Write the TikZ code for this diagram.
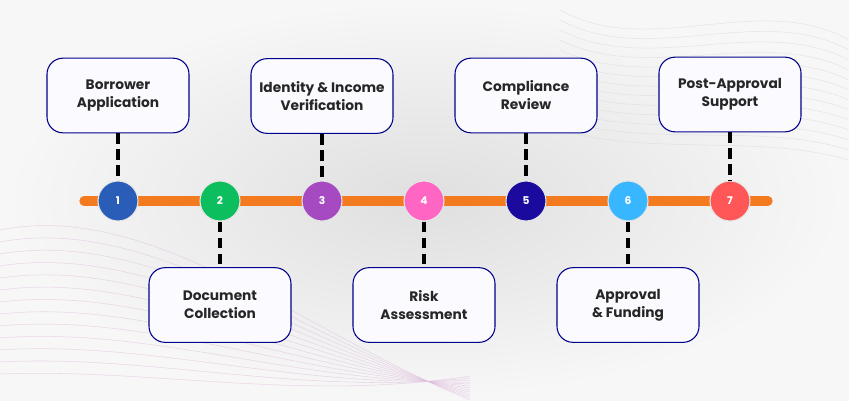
\documentclass[tikz,border=0pt]{standalone}
\usepackage{fontspec}
\setmainfont{Poppins}[BoldFont=* Bold]
\begin{document}
\begin{tikzpicture}[x=0.75pt,y=-0.75pt,
 box/.style={draw=blue!55!black,line width=0.8pt,fill=white!98!blue,rounded corners=12pt,minimum width=106.5pt,minimum height=56pt,align=center,font=\bfseries\fontsize{10.3}{13.5}\selectfont,text=black!85},
 dot/.style={circle,minimum size=30pt,inner sep=0pt,draw=white!80!gray,line width=0.8pt,text=white,font=\bfseries\fontsize{8}{10}\selectfont},
 stem/.style={line width=3.5pt,dash pattern=on 8pt off 4pt}]
\shade[inner color=gray!25,outer color=gray!6] (0,0) rectangle (849,400);
\useasboundingbox (0,0) rectangle (849,400);
\foreach \k in {0,...,12}{
 \draw[violet!25,line width=0.4pt,opacity=0.6] (0,{230+\k*12}) .. controls (150,{200+\k*14}) and (300,{330+\k*6}) .. (470,{400-\k*2});
 \draw[gray!30,line width=0.4pt,opacity=0.6] (560,{10+\k*10}) .. controls (650,{60+\k*8}) and (760,{-10+\k*12}) .. (849,{40+\k*10});
}
\definecolor{ora}{HTML}{F47A20}
\draw[line width=7pt,ora,line cap=round] (84,201) coordinate(ls) -- (768,201) coordinate(le);
\definecolor{c1}{HTML}{2A5DB8}\definecolor{c2}{HTML}{0DBE5E}\definecolor{c3}{HTML}{A54AC0}
\definecolor{c4}{HTML}{FF66C4}\definecolor{c5}{HTML}{1B0A9E}\definecolor{c6}{HTML}{38B6FF}\definecolor{c7}{HTML}{FF5757}
\foreach \i/\x in {1/118,2/220,3/322,4/424,5/526,6/628,7/730}{
 \node[dot,fill=c\i] (d\i) at (\x,201) {\i};
}
\node[box] (b1) at (118,95.5) {Borrower\\Application};
\node[box] (b3) at (322,96) {Identity \& Income\\Verification};
\node[box] (b5) at (526,95.5) {Compliance\\Review};
\node[box] (b7) at (730,94.5) {Post-Approval\\Support};
\node[box] (b2) at (220,305) {Document\\Collection};
\node[box] (b4) at (424,305) {Risk\\Assessment};
\node[box] (b6) at (628,305) {Approval\\\& Funding};
\foreach \i in {1,3,5,7}{\draw[stem] (b\i.south) -- (d\i.north);}
\foreach \i in {2,4,6}{\draw[stem] (d\i.south) -- (b\i.north);}
\end{tikzpicture}
\end{document}
